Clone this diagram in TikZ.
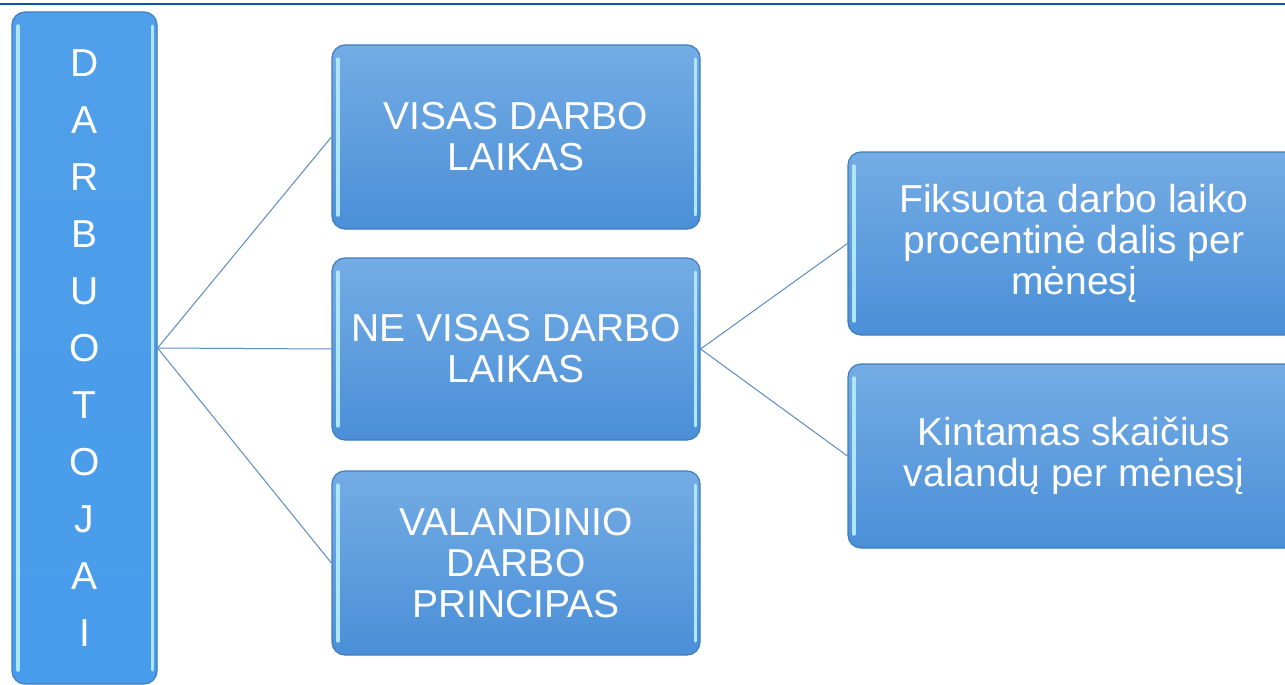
\documentclass[tikz,border=0pt]{standalone}
\usepackage{fontspec}
\setmainfont{Liberation Sans}
\definecolor{boxtop}{HTML}{74ACE4}
\definecolor{boxbot}{HTML}{4A8FD8}
\definecolor{boxedge}{HTML}{3F7CBF}
\definecolor{lefttop}{HTML}{509FEA}
\definecolor{leftbot}{HTML}{479CEB}
\definecolor{glint}{HTML}{B0E6FB}
\definecolor{linkcol}{HTML}{5B8BC2}
\definecolor{topline}{HTML}{0B55AE}
\tikzset{
  x=1pt, y=-1pt,
  glossy/.style={
    path picture={
      \draw[glint, line width=3.5pt, line cap=round]
        ([xshift=6pt,yshift=-14pt]path picture bounding box.north west) --
        ([xshift=6pt,yshift=14pt]path picture bounding box.south west);
      \draw[glint, line width=3pt, line cap=round]
        ([xshift=-5pt,yshift=-14pt]path picture bounding box.north east) --
        ([xshift=-5pt,yshift=14pt]path picture bounding box.south east);
    }},
  bluebox/.style={draw=boxedge, line width=1.2pt, rounded corners=13pt,
    top color=boxtop, bottom color=boxbot, glossy,
    text=white, align=center, inner sep=0pt,
    font=\fontsize{39}{41}\selectfont},
  leftbox/.style={draw=boxedge, line width=1.2pt, rounded corners=13pt,
    top color=lefttop, bottom color=leftbot, glossy,
    text=white, align=center, inner sep=0pt,
    font=\fontsize{39}{57}\selectfont},
  link/.style={draw=linkcol, line width=1pt},
}
\begin{document}
\begin{tikzpicture}
\useasboundingbox (0,0) rectangle (1285,685);
\clip (0,0) rectangle (1285,685);
\draw[topline, line width=1.5pt] (0,4) -- (1285,4);

\node[leftbox, minimum width=145pt, minimum height=672pt] (emp) at (84.5,348)
  {D\\A\\R\\B\\U\\O\\T\\O\\J\\A\\I};

\node[bluebox, minimum width=368pt, minimum height=184pt] (full) at (516,137)
  {VISAS DARBO\\LAIKAS};
\node[bluebox, minimum width=368pt, minimum height=182pt] (part) at (516,349)
  {NE VISAS DARBO\\LAIKAS};
\node[bluebox, minimum width=368pt, minimum height=184pt] (hourly) at (516,563)
  {VALANDINIO\\DARBO\\PRINCIPAS};

\node[bluebox, minimum width=452pt, minimum height=183pt] (fixed) at (1074,243.5)
  {Fiksuota darbo laiko\\procentinė dalis per\\mėnesį};
\node[bluebox, minimum width=452pt, minimum height=184pt] (var) at (1074,456)
  {Kintamas skaičius\\valandų per mėnesį};

\coordinate (hub) at (emp.east);
\coordinate (hub2) at (part.east);
\draw[link] (hub) -- (full.west);
\draw[link] (hub) -- (part.west);
\draw[link] (hub) -- (hourly.west);
\draw[link] (hub2) -- (fixed.west);
\draw[link] (hub2) -- (var.west);
\end{tikzpicture}
\end{document}
